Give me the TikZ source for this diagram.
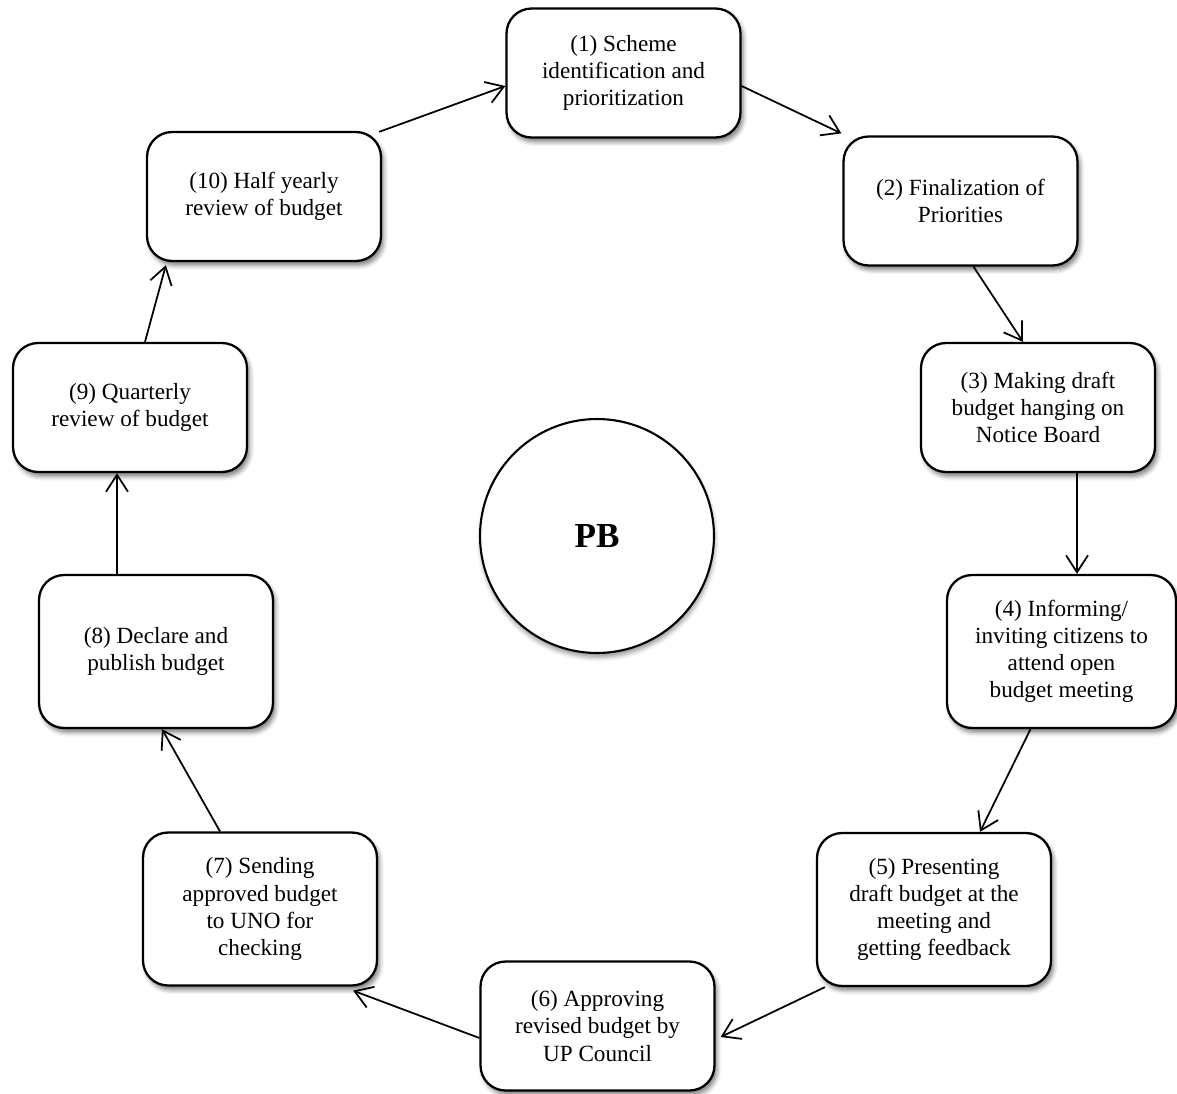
\documentclass[tikz,border=0pt]{standalone}
\usepackage{fontspec}
\setmainfont{Liberation Serif}
\usetikzlibrary{arrows.meta,calc,shadows.blur}

\tikzset{
  stage/.style={draw=black, line width=1.3pt, rounded corners=0.5cm, fill=white,
    align=center, inner sep=2pt, font=\fontsize{13.2}{15.4}\selectfont,
    blur shadow={shadow xshift=1.5pt, shadow yshift=-2.5pt,
      shadow blur radius=2.5pt, shadow opacity=50}},
  short/.style={stage, minimum width=4.68cm, minimum height=2.58cm},
  tall/.style={stage, minimum width=4.68cm, minimum height=3.06cm},
  hub/.style={circle, draw=black, line width=1.2pt, fill=white, minimum size=4.68cm,
    font=\fontsize{20}{24}\selectfont\bfseries,
    blur shadow={shadow xshift=0.5pt, shadow yshift=-2.5pt,
      shadow blur radius=2.5pt, shadow opacity=40}},
  flow/.style={line width=1pt, -{Straight Barb[length=0.34cm,width=0.44cm]}},
}

\begin{document}
\begin{tikzpicture}[x=0.02cm, y=-0.02cm]
\useasboundingbox (0,0) rectangle (1177,1093);

% the ten stages of the cycle
\node[short] (b1)  at (623.5,73)   {(1) Scheme\\identification and\\prioritization};
\node[short] (b2)  at (960.5,201)  {(2) Finalization of\\Priorities};
\node[short] (b3)  at (1038,407.5) {(3) Making draft\\budget hanging on\\Notice Board};
\node[tall, minimum width=4.58cm] (b4) at (1061.5,651.5) {(4) Informing/\\inviting citizens to\\attend open\\budget meeting};
\node[tall]  (b5)  at (934,909.5)  {(5) Presenting\\draft budget at the\\meeting and\\getting feedback};
\node[short] (b6)  at (597.5,1026) {(6) Approving\\revised budget by\\UP Council};
\node[tall]  (b7)  at (260,909)    {(7) Sending\\approved budget\\to UNO for\\checking};
\node[tall]  (b8)  at (156,651.5)  {(8) Declare and\\publish budget};
\node[short] (b9)  at (130,407.5)  {(9) Quarterly\\review of budget};
\node[short] (b10) at (264,196.5)  {(10) Half yearly\\review of budget};

% centre
\node[hub] (pb) at (597,536) {PB};

% connectors
\draw[flow] ($(b10.north east)+(-3,1)$) -- ($(b1.west)+(0,13)$);
\draw[flow] ($(b1.east)+(0,13)$) -- ($(b2.north west)+(-1,-2)$);
\draw[flow] ($(b2.south)+(13,0)$) -- ($(b3.north)+(-15,0)$);
\draw[flow] ($(b3.south)+(39,0)$) -- ($(b4.north)+(15.5,0)$);
\draw[flow] ($(b4.south)+(-31,0)$) -- ($(b5.north)+(46,0)$);
\draw[flow] ($(b5.south west)+(9,0)$) -- ($(b6.east)+(5,11)$);
\draw[flow] ($(b6.west)+(0,12)$) -- ($(b7.south east)+(-25,4)$);
\draw[flow] ($(b7.north)+(-40,0)$) -- ($(b8.south)+(6,0)$);
\draw[flow] ($(b8.north)+(-39,0)$) -- ($(b9.south)+(-13,0)$);
\draw[flow] ($(b9.north)+(15,0)$) -- ($(b10.south west)+(20,3)$);
\end{tikzpicture}
\end{document}
